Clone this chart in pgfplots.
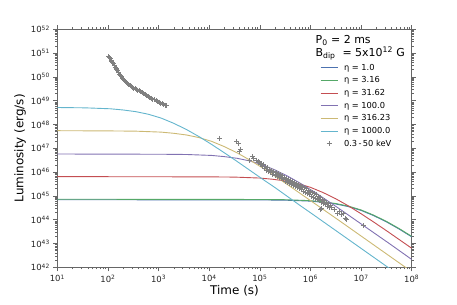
\documentclass[border=0pt]{standalone}
\usepackage{pgfplots}
\pgfplotsset{compat=1.18}
\usepackage{fontspec}
\setmainfont{DejaVu Sans}
\definecolor{cb}{HTML}{4C72B0}
\definecolor{cg}{HTML}{55A868}
\definecolor{cr}{HTML}{C44E52}
\definecolor{cp}{HTML}{8172B2}
\definecolor{cy}{HTML}{CCB974}
\definecolor{cc}{HTML}{64B5CD}
\definecolor{spine}{HTML}{666666}
\definecolor{pts}{HTML}{808080}
\def\xminor{1}
\foreach \d in {1,...,7}{\foreach \m in {2,...,9}{\pgfmathsetmacro\v{\d+log10(\m)}\xdef\xminor{\xminor,\v}}}
\def\yminor{42}
\foreach \d in {42,...,51}{\foreach \m in {2,...,9}{\pgfmathsetmacro\v{\d+log10(\m)}\xdef\yminor{\yminor,\v}}}
\begin{document}
\begin{tikzpicture}
\useasboundingbox (0,0) rectangle (457bp,305bp);
\begin{axis}[
  at={(57.3bp,37.7bp)}, anchor=south west,
  scale only axis, width=354.4bp, height=238bp,
  xmin=1, xmax=8, ymin=42, ymax=52,
  xtick={1,2,3,4,5,6,7,8}, ytick={42,43,44,45,46,47,48,49,50,51,52},
  xticklabels={10\textsuperscript{1},10\textsuperscript{2},10\textsuperscript{3},10\textsuperscript{4},10\textsuperscript{5},10\textsuperscript{6},10\textsuperscript{7},10\textsuperscript{8}},
  yticklabels={10\textsuperscript{42},10\textsuperscript{43},10\textsuperscript{44},10\textsuperscript{45},10\textsuperscript{46},10\textsuperscript{47},10\textsuperscript{48},10\textsuperscript{49},10\textsuperscript{50},10\textsuperscript{51},10\textsuperscript{52}},
  minor xtick/.expanded={\xminor},
  minor ytick/.expanded={\yminor},
  tick align=outside,
  major tick length=4bp, minor tick length=2bp,
  axis line style={spine, line width=0.8bp},
  every tick/.append style={spine, line width=0.6bp},
  every minor tick/.append style={spine, line width=0.5bp},
  tick label style={font=\fontsize{8.5}{10}\selectfont, text=black!85},
  xlabel={Time (s)}, ylabel={Luminosity (erg/s)},
  label style={font=\fontsize{12}{14}\selectfont},
  xlabel style={at={(axis description cs:0.5,-0.10)}, anchor=center},
  ylabel style={at={(axis description cs:-0.105,0.5)}, anchor=center},
  legend cell align=left,
  legend style={draw=none, fill=none, inner sep=0pt, at={(0.741,0.855)}, anchor=north west,
    font=\fontsize{8.3}{9}\selectfont, row sep=5.2bp,
    nodes={inner sep=0pt, text height=6bp, text depth=1.5bp},
    /tikz/every odd column/.append style={column sep=6bp}},
]
% eta = 1.0
\addplot[cb, line width=0.9bp] coordinates {(1,44.84)(5.0,44.83)(5.5,44.82)(6.0,44.78)(6.25,44.73)(6.5,44.66)(6.75,44.55)(7.0,44.39)(7.25,44.17)(7.5,43.91)(7.75,43.61)(8.0,43.28)};
\addlegendentry{η = 1.0}
% eta = 3.16
\addplot[cg, line width=0.9bp] coordinates {(1,44.86)(5.0,44.85)(5.5,44.84)(6.0,44.80)(6.25,44.75)(6.5,44.68)(6.75,44.57)(7.0,44.41)(7.25,44.19)(7.5,43.93)(7.75,43.63)(8.0,43.30)};
\addlegendentry{η = 3.16}
% eta = 31.62
\addplot[cr, line width=0.9bp] coordinates {(1,45.81)(4.0,45.80)(4.5,45.79)(5.0,45.75)(5.25,45.70)(5.5,45.63)(5.75,45.52)(6.0,45.36)(6.25,45.14)(6.5,44.88)(6.75,44.58)(7.0,44.25)(7.25,43.90)(7.5,43.54)(7.75,43.17)(8.0,42.80)};
\addlegendentry{η = 31.62}
% eta = 100
\addplot[cp, line width=0.9bp] coordinates {(1,46.76)(3.05,46.75)(3.55,46.74)(4.05,46.70)(4.30,46.65)(4.55,46.58)(4.80,46.47)(5.05,46.31)(5.30,46.09)(5.55,45.83)(5.80,45.53)(6.05,45.20)(6.30,44.85)(6.55,44.49)(6.80,44.12)(7.05,43.75)(7.30,43.38)(7.55,43.01)(8.0,42.33)};
\addlegendentry{η = 100.0}
% eta = 316.23
\addplot[cy, line width=0.9bp] coordinates {(1,47.74)(2.05,47.73)(2.55,47.72)(3.05,47.68)(3.30,47.63)(3.55,47.56)(3.80,47.45)(4.05,47.29)(4.30,47.07)(4.55,46.81)(4.80,46.51)(5.05,46.18)(5.30,45.83)(5.55,45.47)(5.80,45.10)(6.05,44.73)(6.30,44.36)(6.55,43.99)(7.05,43.24)(8.0,41.815)};
\addlegendentry{η = 316.23}
% eta = 1000
\addplot[cc, line width=0.9bp] coordinates {(1,48.714)(1.55,48.70)(2.05,48.66)(2.30,48.61)(2.55,48.54)(2.80,48.43)(3.05,48.27)(3.30,48.05)(3.55,47.79)(3.80,47.49)(4.05,47.16)(4.30,46.81)(4.55,46.45)(4.80,46.08)(5.05,45.71)(5.30,45.35)(5.55,44.97)(5.80,44.59)(6.05,44.22)(7.6,41.895)};
\addlegendentry{η = 1000.0}
% data 0.3-50 keV
\addplot[only marks, mark=+, mark size=2.5bp, pts, line width=1.0bp] coordinates {
(2.02,50.84)(2.04,50.80)(2.05,50.76)(2.07,50.70)(2.08,50.66)(2.10,50.60)(2.11,50.55)(2.13,50.47)(2.14,50.40)(2.16,50.34)(2.17,50.30)(2.19,50.25)(2.21,50.20)(2.23,50.12)(2.25,50.06)(2.27,50.00)(2.29,49.95)(2.31,49.90)(2.33,49.84)(2.35,49.79)(2.37,49.75)(2.39,49.72)(2.41,49.68)(2.44,49.63)(2.46,49.60)(2.49,49.56)(2.51,49.53)(2.54,49.51)(2.56,49.48)(2.59,49.44)(2.62,49.41)(2.65,49.37)(2.68,49.33)(2.71,49.30)(2.74,49.26)(2.77,49.22)(2.80,49.18)(2.83,49.14)(2.86,49.10)(2.89,49.06)(2.92,49.03)(2.95,49.01)(2.98,48.98)(3.01,48.94)(3.04,48.90)(3.07,48.87)(3.10,48.84)(3.13,48.81)(3.15,48.78)
(4.21,47.42)(4.54,47.28)(4.57,47.21)(4.62,46.93)(4.60,46.86)(4.85,46.65)(4.79,46.47)(4.88,46.58)(4.93,46.50)(4.97,46.44)
(5.00,46.42)(5.02,46.30)(5.04,46.36)(5.06,46.22)(5.08,46.30)(5.10,46.15)(5.12,46.24)(5.14,46.08)(5.16,46.18)(5.18,46.02)(5.20,46.12)(5.22,45.98)(5.24,46.08)(5.26,45.92)(5.28,46.02)(5.30,45.86)(5.32,45.97)(5.34,45.82)(5.36,45.93)(5.38,45.76)(5.40,45.88)(5.42,45.72)(5.44,45.84)(5.46,45.68)(5.48,45.78)(5.50,45.62)(5.52,45.74)(5.54,45.58)(5.56,45.70)(5.58,45.52)(5.60,45.64)(5.62,45.48)(5.64,45.60)(5.66,45.44)(5.68,45.56)(5.70,45.40)(5.72,45.52)(5.74,45.36)(5.76,45.48)(5.78,45.30)(5.80,45.44)(5.82,45.26)(5.84,45.40)(5.86,45.20)(5.88,45.34)(5.90,45.14)(5.92,45.30)(5.94,45.10)(5.96,45.24)(5.98,45.04)(6.00,45.18)(6.02,44.98)(6.04,45.14)(6.06,44.94)(6.08,45.08)(6.10,44.90)(6.12,45.04)(6.14,44.86)(6.16,44.98)(6.18,44.80)(6.20,44.94)(6.22,44.74)(6.24,44.86)(6.26,44.68)(6.28,44.80)(6.30,44.62)(6.32,44.72)(6.34,44.56)(6.36,44.66)(6.38,44.50)(6.40,44.60)
(6.42,44.52)(6.48,44.41)(6.53,44.27)(6.58,44.34)(6.61,44.20)(6.66,44.24)(6.70,44.06)(6.71,43.99)(6.20,44.44)(6.22,44.48)(7.04,43.74)};
\addlegendentry{0.3\,-\,50 keV}
\node[anchor=west, font=\fontsize{11}{13}\selectfont, inner sep=0pt] at (axis cs:6.10,51.52) {P\textsubscript{0} = 2 ms};
\node[anchor=west, font=\fontsize{11}{13}\selectfont, inner sep=0pt] at (axis cs:6.10,50.99) {B\textsubscript{dip}\ \ = 5x10\textsuperscript{12} G};
\end{axis}
\end{tikzpicture}
\end{document}
